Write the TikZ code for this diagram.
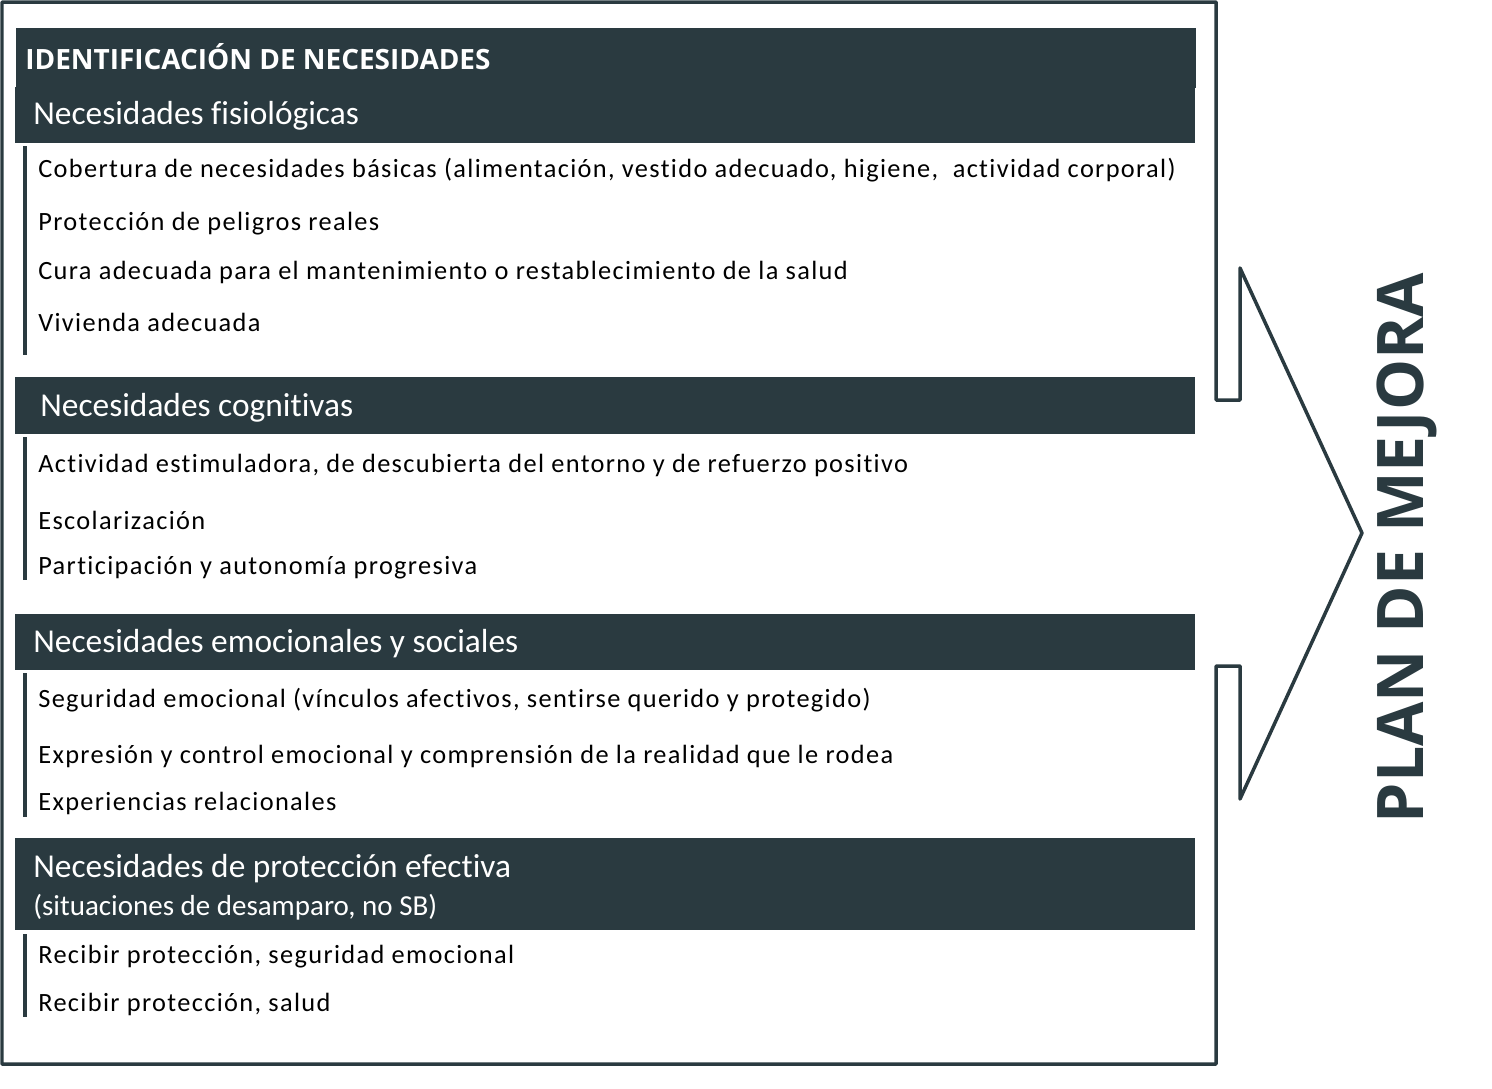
\documentclass[tikz,border=0pt]{standalone}
\usepackage{fontspec}
\setmainfont{Carlito}[Ligatures=NoCommon]
\newfontfamily\itemfont{Carlito}[LetterSpace=5.1, Ligatures=NoCommon]
\newfontfamily\boldsans{Open Sans}[UprightFont=* Bold]
\definecolor{slate}{RGB}{42,58,64}
\begin{document}
\begin{tikzpicture}[
    x=0.02cm, y=-0.02cm,
    bar/.style={fill=slate},
    head/.style={anchor=west, text=white, inner sep=0pt, font=\fontsize{19}{22}\selectfont},
    item/.style={anchor=west, inner sep=0pt, font=\itemfont\fontsize{15}{18}\selectfont},
    rule/.style={slate, line width=0.08cm}
]
\useasboundingbox (0,0) rectangle (1492,1089);

% Frame with arrow
\draw[slate, line width=0.07cm, line join=round]
    (1216,400) -- (1240,400) -- (1240,268) -- (1362,533) -- (1240,799)
    -- (1240,666) -- (1216,666) -- (1216,1064) -- (2,1064) -- (2,2)
    -- (1216,2) -- cycle;

% Title
\fill[bar] (16,28) rectangle (1196,88);
\node[head, font=\boldsans\fontsize{15.9}{20}\selectfont] (title) at (25,57) {IDENTIFICACIÓN DE NECESIDADES};

% Fisiologicas
\fill[bar] (15,87) rectangle (1195,143);
\node[head] (fis) at (33,116) {Necesidades fisiológicas};
\draw[rule] (25,146) -- (25,355);
\node[item] (fis1) at (38,170) {Cobertura de necesidades básicas (alimentación, vestido adecuado, higiene,\ \ actividad corporal)};
\node[item] (fis2) at (38,224) {Protección de peligros reales};
\node[item] (fis3) at (38,272) {Cura adecuada para el mantenimiento o restablecimiento de la salud};
\node[item] (fis4) at (38,322) {Vivienda adecuada};

% Cognitivas
\fill[bar] (15,377) rectangle (1195,434);
\node[head] (cog) at (40,408) {Necesidades cognitivas};
\draw[rule] (25,437) -- (25,580);
\node[item] (cog1) at (38,465) {Actividad estimuladora, de descubierta del entorno y de refuerzo positivo};
\node[item] (cog2) at (38,520) {Escolarización};
\node[item] (cog3) at (38,568) {Participación y autonomía progresiva};

% Emocionales
\fill[bar] (15,614) rectangle (1195,670);
\node[head] (emo) at (33,644) {Necesidades emocionales y sociales};
\draw[rule] (25,673) -- (25,817);
\node[item] (emo1) at (38,700) {Seguridad emocional (vínculos afectivos, sentirse querido y protegido)};
\node[item] (emo2) at (38,756) {Expresión y control emocional y comprensión de la realidad que le rodea};
\node[item] (emo3) at (38,803) {Experiencias relacionales};

% Proteccion
\fill[bar] (15,838) rectangle (1195,930);
\node[head] (pro) at (33,869) {Necesidades de protección efectiva};
\node[head, font=\fontsize{16.5}{18}\selectfont] (prosub) at (33,907) {(situaciones de desamparo, no SB)};
\draw[rule] (25,934) -- (25,1017);
\node[item] (pro1) at (38,957) {Recibir protección, seguridad emocional};
\node[item] (pro2) at (38,1004) {Recibir protección, salud};

% Plan
\node[rotate=90, text=slate, inner sep=0pt, font=\boldsans\fontsize{36.6}{40}\selectfont] (plan) at (1407,548) {PLAN DE MEJORA};

\end{tikzpicture}
\end{document}
